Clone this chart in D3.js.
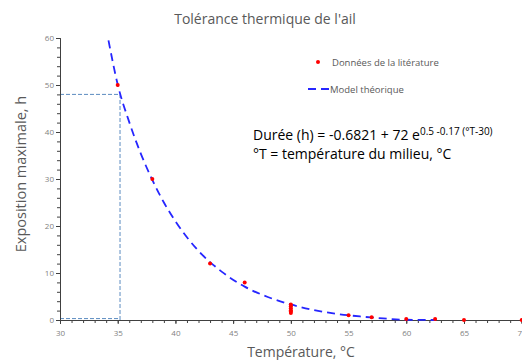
<!DOCTYPE html>
<html>
<head>
<meta charset="utf-8">
<script src="https://cdn.jsdelivr.net/npm/d3@7"></script>
<style>
  body { margin: 0; background: #fff; }
  text { font-family: "Open Sans", "Noto Sans", sans-serif; }
</style>
</head>
<body>
<svg id="chart" width="522" height="360"></svg>
<script>
// literature points (temperature °C, max exposure h)
const dataT = [35, 38, 43, 46, 50, 50, 50, 50, 50, 50, 55, 57, 60, 62.5, 65, 70];
const dataH = [50, 30, 12, 8, 3.3, 2.9, 2.5, 2.1, 1.8, 1.5, 1, 0.6, 0.2, 0.2, 0, 0];

// model curve
const modelT = [34.2, 35, 36, 37, 38, 39, 40, 42, 44, 46, 48, 50, 52, 54, 56, 58, 60, 62.5];
const modelH = [59.5, 50.1, 42.1, 35.4, 29.8, 25.0, 21.0, 14.7, 10.3, 7.1, 4.9, 3.3, 2.1, 1.3, 0.75, 0.33, 0.05, 0];

// reading guide at 35.2 °C / 48 h
const guideT = [30, 35.2];
const guideH = [0.3, 48];

const xTicks = [30, 35, 40, 45, 50, 55, 60, 65, 70];
const yTicks = [0, 10, 20, 30, 40, 50, 60];

const svg = d3.select("#chart");
const margin = {top: 38, right: 0, bottom: 40, left: 60};

const x = d3.scaleLinear().domain([30, 70]).range([margin.left, 521.7]);
const y = d3.scaleLinear().domain([0, 60]).range([320, 38]);

const grey = "#595959";

// title
svg.append("text")
    .attr("x", 265).attr("y", 24)
    .attr("text-anchor", "middle")
    .style("font-size", "14px")
    .style("fill", grey)
    .text("Tolérance thermique de l'ail");

// dashed guide box
const guide = svg.append("g")
    .attr("fill", "none")
    .attr("stroke", "#5b8bc0")
    .attr("stroke-width", 1)
    .attr("stroke-dasharray", "4,2");
guide.append("line")
    .attr("x1", x(guideT[0])).attr("x2", x(guideT[1]))
    .attr("y1", y(guideH[1])).attr("y2", y(guideH[1]));
guide.append("line")
    .attr("x1", x(guideT[0])).attr("x2", x(guideT[1]))
    .attr("y1", y(guideH[0])).attr("y2", y(guideH[0]));
guide.append("line")
    .attr("x1", x(guideT[1])).attr("x2", x(guideT[1]))
    .attr("y1", y(0)).attr("y2", y(guideH[1]));
guide.append("line")
    .attr("x1", x(guideT[0]) + 0.5).attr("x2", x(guideT[0]) + 0.5)
    .attr("y1", y(0)).attr("y2", y(guideH[1]));

// axes
const minorX = d3.range(30, 71, 1);
const minorY = d3.range(0, 61, 2);

const gx = svg.append("g").attr("transform", "translate(0," + y(0) + ")");
gx.call(d3.axisBottom(x).tickValues(minorX).tickSize(3).tickFormat(""));
gx.call(g => g.append("g").call(d3.axisBottom(x).tickValues(xTicks).tickSize(4).tickFormat(d3.format("d"))));
gx.selectAll("path.domain").attr("stroke", "#404040");
gx.selectAll(".tick line").attr("stroke", "#404040");
gx.selectAll("text").style("font-size", "8px").style("fill", "#7f7f7f")
    .style("font-family", "'Open Sans', sans-serif").attr("dy", "1.1em");

const gy = svg.append("g").attr("transform", "translate(" + x(30) + ",0)");
gy.call(d3.axisLeft(y).tickValues(minorY).tickSize(3).tickFormat(""));
gy.call(g => g.append("g").call(d3.axisLeft(y).tickValues(yTicks).tickSize(4).tickFormat(d3.format("d"))));
gy.selectAll("path.domain").attr("stroke", "#404040");
gy.selectAll(".tick line").attr("stroke", "#404040");
gy.selectAll("text").style("font-size", "8px").style("fill", "#7f7f7f")
    .style("font-family", "'Open Sans', sans-serif").attr("x", -6);

// model curve
const line = d3.line()
    .x((d, i) => x(modelT[i]))
    .y((d, i) => y(modelH[i]))
    .curve(d3.curveMonotoneX);
svg.append("path")
    .datum(modelH)
    .attr("d", line)
    .attr("fill", "none")
    .attr("stroke", "#2626ff")
    .attr("stroke-width", 1.8)
    .attr("stroke-dasharray", "8,5");

// literature points
svg.append("g").selectAll("circle")
    .data(dataH)
    .enter().append("circle")
    .attr("cx", (d, i) => x(dataT[i]))
    .attr("cy", d => y(d))
    .attr("r", 2)
    .attr("fill", "#ff0000");

// axis titles
svg.append("text")
    .attr("transform", "translate(26,174) rotate(-90)")
    .attr("text-anchor", "middle")
    .style("font-size", "14.5px")
    .style("fill", grey)
    .text("Exposition maximale, h");

svg.append("text")
    .attr("x", 301).attr("y", 357)
    .attr("text-anchor", "middle")
    .style("font-size", "14px")
    .style("fill", grey)
    .text("Température, °C");

// legend
const legend = svg.append("g").style("font-size", "9.5px").style("fill", grey);
legend.append("circle").attr("cx", 318).attr("cy", 62).attr("r", 2).attr("fill", "#ff0000");
legend.append("text").attr("x", 332).attr("y", 65.5).text("Données de la litérature");
legend.append("line")
    .attr("x1", 308).attr("x2", 330).attr("y1", 89).attr("y2", 89)
    .attr("stroke", "#2626ff").attr("stroke-width", 1.8).attr("stroke-dasharray", "8,5");
legend.append("text").attr("x", 330).attr("y", 92.5).text("Model théorique");

// equation
const eq = svg.append("text")
    .attr("x", 253).attr("y", 140)
    .style("font-size", "14px")
    .style("fill", "#000");
eq.append("tspan").text("Durée (h) = -0.6821 + 72 e");
eq.append("tspan").attr("dy", -5).style("font-size", "10px").text("0.5 -0.17 (°T-30)");

svg.append("text")
    .attr("x", 253).attr("y", 159)
    .style("font-size", "14px")
    .style("fill", "#000")
    .text("°T = température du milieu, °C");
</script>
</body>
</html>
